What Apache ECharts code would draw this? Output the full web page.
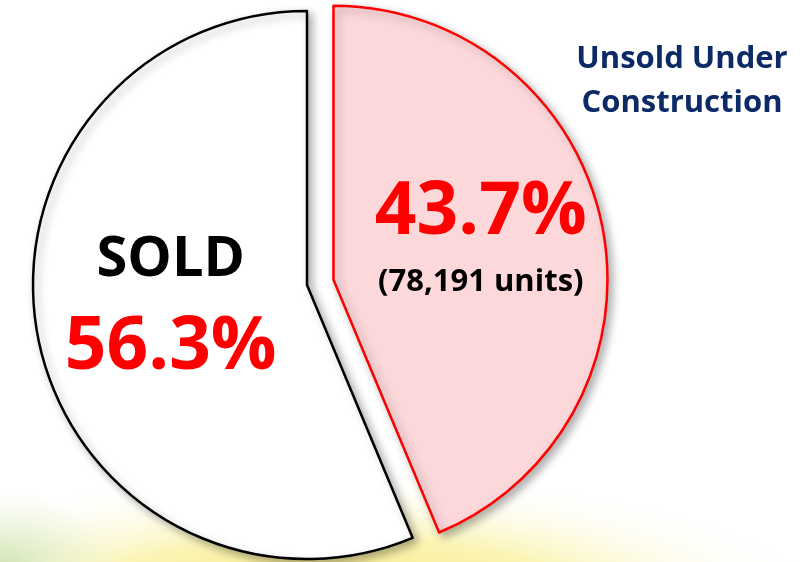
<!DOCTYPE html>
<html>
<head>
<meta charset="utf-8">
<title>Sold vs Unsold Under Construction</title>
<script src="https://cdn.jsdelivr.net/npm/echarts@6/dist/echarts.min.js"></script>
<style>
  html, body { margin: 0; padding: 0; background: #fff; }
  #chart { width: 808px; height: 562px; }
</style>
</head>
<body>
<div id="chart"></div>
<script>
  // shares of units, clockwise from 12 o'clock
  var categories = ['Unsold Under Construction', 'SOLD']
  var shares = [43.7, 56.3]
  var unsoldUnits = 78191
  var sliceColors = ['#fdd8db', '#ffffff']
  var borderColors = ['#ff0000', '#000000']

  var font = '"Open Sans", "DejaVu Sans", sans-serif'

  var chart = echarts.init(document.getElementById('chart'))

  var pieData = categories.map(function (name, i) {
    return {
      name: name,
      value: shares[i],
      selected: i === 0,
      itemStyle: {
        color: sliceColors[i],
        borderColor: borderColors[i]
      }
    }
  })

  function labelText(params) {
    if (params.dataIndex === 0) {
      return '{pct|' + params.value.toFixed(1) + '%}\n{units|(' +
        unsoldUnits.toLocaleString('en-US') + ' units)}'
    }
    return '{name|' + params.name + '}\n{pct|' + params.value.toFixed(1) + '%}'
  }

  // soft wash along the bottom edge
  function wash(cx, cy, rx, ry, stops) {
    return {
      type: 'circle',
      silent: true,
      x: cx,
      y: cy,
      scaleY: ry / rx,
      shape: { cx: 0, cy: 0, r: rx },
      style: {
        fill: new echarts.graphic.RadialGradient(0.5, 0.5, 0.5, stops)
      },
      z: -10
    }
  }

  chart.setOption({
    backgroundColor: '#ffffff',
    animation: false,
    title: {
      text: 'Unsold Under\nConstruction',
      left: 677,
      top: 32,
      textAlign: 'center',
      textStyle: {
        fontFamily: font,
        fontSize: 31,
        fontWeight: 'bold',
        lineHeight: 44,
        color: '#0c2a66'
      }
    },
    graphic: [
      wash(330, 605, 500, 135, [
        { offset: 0, color: '#f8e774' },
        { offset: 0.5, color: 'rgba(250,242,165,0.85)' },
        { offset: 1, color: 'rgba(255,255,255,0)' }
      ]),
      wash(0, 565, 120, 75, [
        { offset: 0, color: 'rgba(200,224,172,0.85)' },
        { offset: 1, color: 'rgba(225,238,200,0)' }
      ])
    ],
    series: [
      {
        type: 'pie',
        center: [307, 285],
        radius: 274,
        startAngle: 90,
        clockwise: true,
        selectedMode: 'single',
        selectedOffset: 27,
        avoidLabelOverlap: false,
        emphasis: { disabled: true },
        itemStyle: {
          borderWidth: 2.5,
          shadowBlur: 8,
          shadowOffsetX: 4,
          shadowOffsetY: 4,
          shadowColor: 'rgba(0,0,0,0.3)'
        },
        select: {
          itemStyle: {
            borderWidth: 2.5
          }
        },
        label: {
          show: true,
          position: 'inner',
          formatter: labelText,
          fontFamily: font,
          fontWeight: 'bold',
          align: 'center',
          rich: {
            name: { fontFamily: font, fontWeight: 'bold', fontSize: 56, color: '#000', lineHeight: 90 },
            pct: { fontFamily: font, fontWeight: 'bold', fontSize: 73, color: '#ff0000', lineHeight: 86 },
            units: { fontFamily: font, fontWeight: 'bold', fontSize: 31, color: '#000', lineHeight: 52 }
          }
        },
        labelLine: { show: false },
        labelLayout: function (params) {
          return params.dataIndex === 0 ? { dx: 10, dy: -13 } : { dx: 1, dy: -9 }
        },
        data: pieData
      }
    ]
  })
</script>
</body>
</html>
